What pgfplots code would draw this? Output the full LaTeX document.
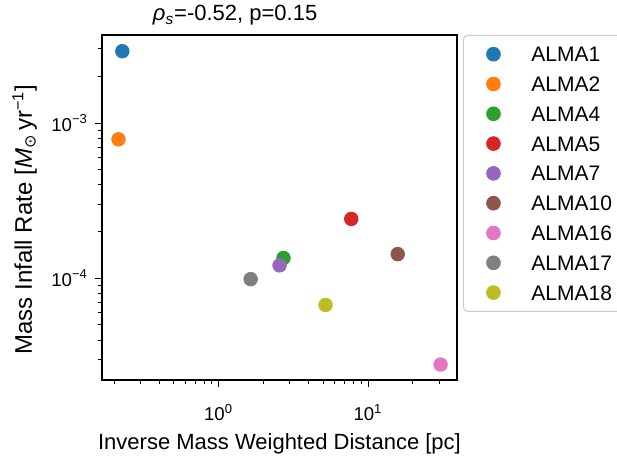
\documentclass[border=0pt]{standalone}
\usepackage{fontspec}
\setmainfont{Liberation Sans}
\newfontfamily\dejavu{DejaVu Sans}
\usepackage{pgfplots}
\pgfplotsset{compat=1.18}
\definecolor{c1}{HTML}{1F77B4}
\definecolor{c2}{HTML}{FF7F0E}
\definecolor{c3}{HTML}{2CA02C}
\definecolor{c4}{HTML}{D62728}
\definecolor{c5}{HTML}{9467BD}
\definecolor{c6}{HTML}{8C564B}
\definecolor{c7}{HTML}{E377C2}
\definecolor{c8}{HTML}{7F7F7F}
\definecolor{c9}{HTML}{BCBD22}
\begin{document}
\begin{tikzpicture}
\begin{axis}[
  at={(0,0)}, anchor=south west,
  width=177.5pt, height=172.5pt, scale only axis,
  xmode=log, ymode=log,
  xmin=0.166, xmax=39.4, ymin=2.21e-5, ymax=3.69e-3,
  xtick={1,10}, xticklabels={10\textsuperscript{0},10\textsuperscript{1}},
  ytick={1e-4,1e-3}, yticklabels={10\textsuperscript{−4},10\textsuperscript{−3}},
  minor xtick={0.2,0.3,0.4,0.5,0.6,0.7,0.8,0.9,2,3,4,5,6,7,8,9,20,30},
  minor ytick={3e-5,4e-5,5e-5,6e-5,7e-5,8e-5,9e-5,2e-4,3e-4,4e-4,5e-4,6e-4,7e-4,8e-4,9e-4,2e-3,3e-3},
  tick pos=left, tick align=outside,
  major tick length=3.5pt, minor tick length=2pt,
  every tick/.style={black, line width=0.5pt},
  axis line style={line width=0.6pt},
  ticklabel style={font=\fontsize{9.3}{11}\selectfont},
  xticklabel style={anchor=base, yshift=-17pt},
  title={\textit{ρ}\textsubscript{\textit{s}}=-0.52, p=0.15},
  every axis title/.style={at={(axis description cs:0.375,1)}, anchor=base, yshift=7pt, font=\fontsize{11}{13}\selectfont},
  xlabel={Inverse Mass Weighted Distance [pc]},
  ylabel={Mass Infall Rate [\textit{M}\textsubscript{\dejavu ⊙}\,yr\textsuperscript{−1}]},
  every axis x label/.style={at={(axis description cs:0.5,0)}, yshift=-34.5pt, anchor=base, font=\fontsize{11}{13}\selectfont},
  every axis y label/.style={at={(axis description cs:0,0.5)}, xshift=-35pt, yshift=-6pt, rotate=90, anchor=base, font=\fontsize{12}{14}\selectfont},
  legend style={at={(axis description cs:1,1)}, xshift=3pt, anchor=north west, draw=black!20, line width=0.5pt, rounded corners=2pt, inner xsep=5pt, inner ysep=5.6pt, row sep=7.4pt, column sep=9pt, font=\fontsize{10.5}{12}\selectfont, nodes={inner sep=0pt, text height=7.5pt, text depth=0pt}},
  legend cell align=left,
  legend image code/.code={\path[draw=none,fill=none] (0pt,0pt) (20pt,0pt); \draw[#1] plot[mark=*] coordinates {(10pt,0pt)};},
]
\addplot[only marks, mark=*, mark size=3.4pt, color=c1] coordinates {(0.227,2.90e-3)};
\addlegendentry{ALMA1}
\addplot[only marks, mark=*, mark size=3.4pt, color=c2] coordinates {(0.214,7.85e-4)};
\addlegendentry{ALMA2}
\addplot[only marks, mark=*, mark size=3.4pt, color=c3] coordinates {(2.72,1.35e-4)};
\addlegendentry{ALMA4}
\addplot[only marks, mark=*, mark size=3.4pt, color=c4] coordinates {(7.73,2.41e-4)};
\addlegendentry{ALMA5}
\addplot[only marks, mark=*, mark size=3.4pt, color=c5] coordinates {(2.56,1.21e-4)};
\addlegendentry{ALMA7}
\addplot[only marks, mark=*, mark size=3.4pt, color=c6] coordinates {(15.8,1.43e-4)};
\addlegendentry{ALMA10}
\addplot[only marks, mark=*, mark size=3.4pt, color=c7] coordinates {(30.6,2.78e-5)};
\addlegendentry{ALMA16}
\addplot[only marks, mark=*, mark size=3.4pt, color=c8] coordinates {(1.64,9.86e-5)};
\addlegendentry{ALMA17}
\addplot[only marks, mark=*, mark size=3.4pt, color=c9] coordinates {(5.20,6.73e-5)};
\addlegendentry{ALMA18}
\end{axis}
\pgfresetboundingbox
\path[use as bounding box] (-51pt,-39.5pt) rectangle (257.5pt,190pt);
\end{tikzpicture}
\end{document}
